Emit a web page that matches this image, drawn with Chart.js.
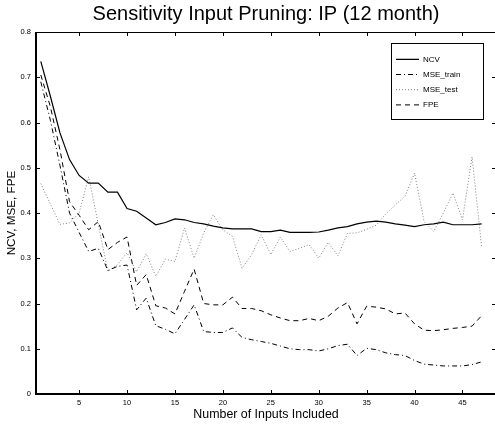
<!DOCTYPE html>
<html><head><meta charset="utf-8">
<script src="https://cdn.jsdelivr.net/npm/chart.js@4.4.1/dist/chart.umd.min.js"></script>
<style>html,body{margin:0;padding:0;overflow:hidden;background:#fff}#wrap{width:497px;height:425px}</style>
</head><body><div id="wrap"><canvas id="c" width="497" height="425"></canvas></div>
<script>
const inputs = [1,2,3,4,5,6,7,8,9,10,11,12,13,14,15,16,17,18,19,20,21,22,23,24,25,26,27,28,29,30,31,32,33,34,35,36,37,38,39,40,41,42,43,44,45,46,47];
const ncv = [0.735,0.658,0.577,0.518,0.483,0.466,0.466,0.446,0.446,0.410,
             0.404,0.389,0.374,0.379,0.387,0.385,0.379,0.376,0.371,0.367,
             0.365,0.365,0.365,0.359,0.359,0.362,0.357,0.357,0.357,0.358,
             0.362,0.367,0.370,0.376,0.380,0.382,0.380,0.376,0.373,0.370,
             0.374,0.376,0.380,0.374,0.374,0.374,0.376];
const mseTrain = [0.690,0.605,0.505,0.400,0.357,0.315,0.322,0.273,0.282,0.285,
                  0.186,0.212,0.151,0.143,0.133,0.165,0.197,0.138,0.136,0.136,
                  0.146,0.125,0.120,0.116,0.112,0.106,0.100,0.098,0.098,0.095,
                  0.100,0.107,0.110,0.085,0.101,0.098,0.091,0.087,0.085,0.074,
                  0.066,0.064,0.062,0.062,0.062,0.065,0.071];
const mseTest = [0.465,0.420,0.375,0.378,0.400,0.480,0.375,0.271,0.286,0.312,
                 0.270,0.310,0.260,0.298,0.293,0.367,0.300,0.356,0.396,0.363,
                 0.348,0.278,0.308,0.352,0.308,0.347,0.315,0.322,0.330,0.300,
                 0.335,0.305,0.355,0.356,0.364,0.373,0.398,0.418,0.437,0.488,
                 0.381,0.359,0.400,0.444,0.385,0.524,0.326];
const fpe = [0.705,0.635,0.540,0.425,0.395,0.363,0.381,0.319,0.335,0.347,
             0.240,0.264,0.195,0.190,0.177,0.227,0.276,0.200,0.197,0.197,
             0.214,0.189,0.189,0.184,0.175,0.168,0.162,0.162,0.167,0.162,
             0.172,0.190,0.202,0.155,0.194,0.192,0.188,0.177,0.179,0.155,
             0.141,0.140,0.142,0.145,0.147,0.150,0.173];
const seriesNames = ['NCV','MSE_train','MSE_test','FPE'];
const xTickValues = [5,10,15,20,25,30,35,40,45];
const yTickValues = [0,0.1,0.2,0.3,0.4,0.5,0.6,0.7,0.8];
const yTickLabels = ['0','0.1','0.2','0.3','0.4','0.5','0.6','0.7','0.8'];
const titleText = 'Sensitivity Input Pruning: IP (12 month)';
const xTitleText = 'Number of Inputs Included';
const yTitleText = 'NCV, MSE, FPE';

const FONT = "'Liberation Sans', Arial, Helvetica, sans-serif";
function pts(arr){ return inputs.map((x,i)=>({x:x, y:arr[i]})); }

const frame = {
  id:'frame',
  afterLayout(chart){
    const ca = chart.chartArea;
    const t = chart.titleBlock;
    if (t){ t.left = ca.left; t.right = ca.right; t.width = ca.right - ca.left; }
    const lg = chart.legend;
    if (lg){ lg.left = 388.8; lg.top = 48.1; lg.right = 483; lg.bottom = 119; lg.width = lg.right-lg.left; lg.height = lg.bottom-lg.top; }
  },
  afterDatasetsDraw(chart){
    const ctx = chart.ctx, ca = chart.chartArea;
    const xs = chart.scales.x, ys = chart.scales.y;
    ctx.save();
    ctx.strokeStyle = '#000';
    ctx.lineWidth = 1;
    ctx.beginPath();
    xTickValues.forEach(v=>{
      const p = Math.round(xs.getPixelForValue(v)) + 0.5;
      ctx.moveTo(p, ca.bottom); ctx.lineTo(p, ca.bottom-4);
      ctx.moveTo(p, ca.top); ctx.lineTo(p, ca.top+4);
    });
    yTickValues.forEach(v=>{
      const p = Math.round(ys.getPixelForValue(v)) + 0.5;
      ctx.moveTo(ca.left, p); ctx.lineTo(ca.left+4, p);
      ctx.moveTo(ca.right, p); ctx.lineTo(ca.right-4, p);
    });
    ctx.moveTo(ca.left, ca.top+0.5); ctx.lineTo(ca.right, ca.top+0.5);
    ctx.moveTo(ca.right-0.5, ca.top); ctx.lineTo(ca.right-0.5, ca.bottom);
    ctx.stroke();
    ctx.lineWidth = 2;
    ctx.beginPath();
    ctx.moveTo(ca.left, ca.bottom); ctx.lineTo(ca.right, ca.bottom);
    ctx.moveTo(ca.left, ca.top); ctx.lineTo(ca.left, ca.bottom+1);
    ctx.stroke();
    ctx.lineWidth = 1;
    ctx.strokeRect(391.5, 43.5, 92, 76);
    ctx.restore();
  }
};

new Chart(document.getElementById('c'), {
  type:'line',
  data:{
    datasets:[
      {label:seriesNames[0], data:pts(ncv), borderColor:'#000', borderWidth:1.2, borderDash:[]},
      {label:seriesNames[1], data:pts(mseTrain), borderColor:'#000', borderWidth:1, borderDash:[5,3,1,3]},
      {label:seriesNames[2], data:pts(mseTest), borderColor:'#808080', borderWidth:1, borderDash:[1,2]},
      {label:seriesNames[3], data:pts(fpe), borderColor:'#000', borderWidth:1, borderDash:[5,4]}
    ]
  },
  options:{
    responsive:false,
    animation:false,
    events:[],
    layout:{padding:{left:0,right:1,top:0,bottom:0}, autoPadding:false},
    elements:{point:{radius:0}, line:{tension:0, fill:false, borderCapStyle:'butt'}},
    plugins:{
      title:{display:true, text:titleText, color:'#000',
             font:{family:FONT, size:20, weight:'normal', lineHeight:1.2},
             padding:{top:2, bottom:6}},
      legend:{display:true, position:'chartArea', align:'start',
              labels:{usePointStyle:true, pointStyle:'line', pointStyleWidth:23, boxHeight:8,
                      padding:7.2, color:'#000', font:{family:FONT, size:8},
                      generateLabels(chart){
                        const items = Chart.defaults.plugins.legend.labels.generateLabels(chart);
                        items.forEach(it=>{
                          const ds = chart.data.datasets[it.datasetIndex];
                          it.lineDash = ds.borderDash;
                          it.strokeStyle = ds.borderColor;
                          it.lineWidth = ds.borderWidth;
                          it.lineCap = 'butt';
                        });
                        return items;
                      }}},
      tooltip:{enabled:false}
    },
    scales:{
      x:{type:'linear', min:0.5, max:48.5,
         afterBuildTicks(s){ s.ticks = xTickValues.map(v=>({value:v})); },
         afterFit(s){ s.height = 31; },
         grid:{display:false, drawTicks:false},
         border:{display:false},
         ticks:{color:'#000', padding:4, maxRotation:0, autoSkip:false,
                font:{family:FONT, size:7.5}},
         title:{display:true, text:xTitleText, color:'#000',
                font:{family:FONT, size:12.4}, padding:{top:0, bottom:3}}},
      y:{type:'linear', min:0, max:0.8,
         afterBuildTicks(s){ s.ticks = yTickValues.map(v=>({value:v})); },
         afterFit(s){ s.width = 36; },
         grid:{display:false, drawTicks:false},
         border:{display:false},
         ticks:{color:'#000', padding:5, autoSkip:false,
                font:{family:FONT, size:7.5},
                callback(v){ const i = yTickValues.findIndex(t=>Math.abs(t-v)<1e-9); return i>=0 ? yTickLabels[i] : ''; }},
         title:{display:true, text:yTitleText, color:'#000',
                font:{family:FONT, size:11.7}, padding:{top:5, bottom:0}}}
    }
  },
  plugins:[frame]
});
</script>
</body></html>
